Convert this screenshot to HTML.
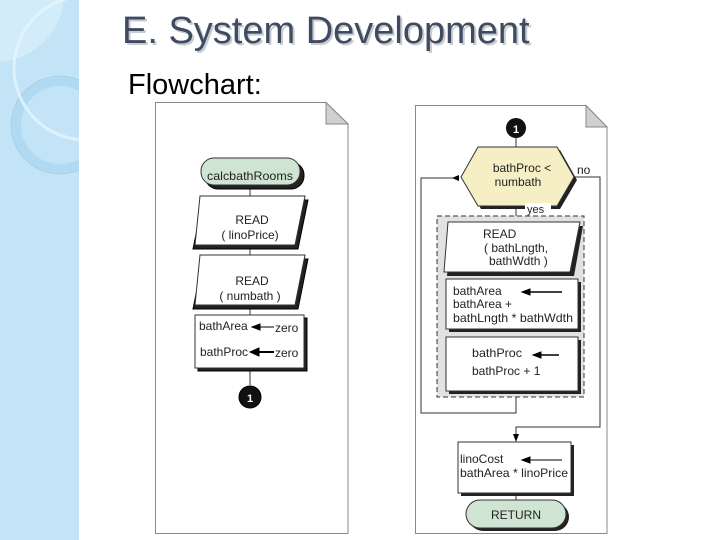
<!DOCTYPE html>
<html><head><style>
body{margin:0;width:720px;height:540px;background:#fff;overflow:hidden;position:relative;font-family:"Liberation Sans",sans-serif}
</style></head><body>
<svg width="720" height="540" style="position:absolute;left:0;top:0" font-family="Liberation Sans, sans-serif">
<defs><clipPath id="c"><rect x="0" y="0" width="79" height="540"/></clipPath></defs>
<rect x="0" y="0" width="79" height="540" fill="#c2e4f6"/>
<g clip-path="url(#c)">
<path d="M0 0 L64 0 A70 70 0 0 1 0 62 Z" fill="#d2ecf9"/>
<circle cx="60" cy="125" r="44" fill="none" stroke="#b0daf1" stroke-width="10"/>
<circle cx="60" cy="125" r="49" fill="none" stroke="#9fcbe6" stroke-width="0.6"/>
<circle cx="86" cy="68" r="72" fill="none" stroke="#e6f5fc" stroke-width="3" opacity="0.8"/>
</g>
<text x="122" y="43" font-size="38" fill="#c8cdd4" transform="translate(2,2)">E. System Development</text>
<text x="122" y="43" font-size="38" fill="#3f4c60">E. System Development</text>
<text x="128" y="94" font-size="29" fill="#000">Flowchart:</text>

<!-- left page -->
<path d="M155.5 102.5 H326 L348 124 V533.5 H155.5 Z" fill="#fff" stroke="#888"/>
<path d="M326 102.5 V124 H348 Z" fill="#d0d0d0" stroke="#888"/>
<g stroke="#000" fill="#fff" font-size="12">
<line x1="250" y1="186" x2="250" y2="385" stroke="#333"/>
<rect x="205" y="162" width="99" height="27" rx="13" fill="#222"/>
<rect x="201" y="158" width="99" height="27" rx="13" fill="#cfe4d2" stroke="#333"/>
<polygon points="203,200 308,200 298,249 193,249" fill="#222"/>
<polygon points="200,196 305,196 295,245 195,245" stroke="#333"/>
<polygon points="203,259 308,259 298,309 193,309" fill="#222"/>
<polygon points="200,255 305,255 295,305 195,305" stroke="#333"/>
<rect x="198" y="318" width="109" height="53" fill="#222"/>
<rect x="195" y="315" width="109" height="53" stroke="#333"/>
<circle cx="250" cy="397" r="11" fill="#111"/>
</g>
<g font-size="12" fill="#222" text-anchor="middle">
<text x="250" y="180" textLength="86" lengthAdjust="spacingAndGlyphs">calcbathRooms</text>
<text x="252" y="224">READ</text>
<text x="250" y="239">( linoPrice)</text>
<text x="252" y="285">READ</text>
<text x="250" y="300">( numbath )</text>
<text x="250" y="402" fill="#fff" font-weight="bold" font-size="11">1</text>
</g>
<g font-size="12" fill="#222">
<text x="199" y="330">bathArea</text><text x="275" y="332">zero</text>
<text x="200" y="356" textLength="48" lengthAdjust="spacingAndGlyphs">bathProc</text><text x="275" y="357">zero</text>
</g>
<g stroke="#000">
<line x1="258" y1="327" x2="274" y2="327"/><polygon points="252,327 260,324 260,330"/>
<line x1="258" y1="352" x2="274" y2="352" stroke-width="2"/><polygon points="250,352 259,348 259,356"/>
</g>

<!-- right page -->
<path d="M415.5 105.5 H586 L607 127 V533.5 H415.5 Z" fill="#fff" stroke="#888"/>
<path d="M586 105.5 V127 H607 Z" fill="#d0d0d0" stroke="#888"/>
<g stroke="#333" fill="none">
<line x1="516" y1="128" x2="516" y2="216"/>
<polyline points="516,397 516,413 421,413 421,178 458,178"/>
<polyline points="574,177 600,177 600,427 516,427 516,440"/>
<line x1="516" y1="493" x2="516" y2="502"/>
</g>
<polygon points="452,178 459,175 459,181" fill="#000"/>
<polygon points="516,442 513,434 519,434" fill="#000"/>
<circle cx="516" cy="128" r="10" fill="#111"/>
<text x="516" y="133" font-size="11" font-weight="bold" fill="#fff" text-anchor="middle">1</text>
<polygon points="481,150 560,150 577,180 560,209 481,209 464,180" fill="#222"/>
<polygon points="478,147 557,147 574,177 557,206 478,206 461,177" fill="#f6efc6" stroke="#333"/>
<text x="522" y="172" font-size="12" fill="#222" text-anchor="middle">bathProc &lt;</text>
<text x="518" y="186" font-size="12" fill="#222" text-anchor="middle">numbath</text>
<text x="577" y="174" font-size="12" fill="#222">no</text>
<rect x="437" y="216" width="147" height="181" fill="#e2e2e2" stroke="#333" stroke-dasharray="5,3"/>
<rect x="525" y="203" width="26" height="12" fill="#fff"/>
<text x="527" y="213" font-size="11" fill="#222">yes</text>
<polygon points="451,226 583,226 574,276 447,276" fill="#222"/>
<polygon points="448,222 580,222 570,272 444,272" fill="#fff" stroke="#333"/>
<rect x="449" y="282" width="132" height="50" fill="#222"/>
<rect x="446" y="279" width="132" height="50" fill="#fff" stroke="#333"/>
<rect x="449" y="340" width="132" height="54" fill="#222"/>
<rect x="446" y="337" width="132" height="54" fill="#fff" stroke="#333"/>
<rect x="461" y="445" width="113" height="51" fill="#222"/>
<rect x="458" y="442" width="113" height="51" fill="#fff" stroke="#333"/>
<rect x="469" y="503" width="100" height="28" rx="14" fill="#222"/>
<rect x="466" y="500" width="100" height="28" rx="14" fill="#cfe4d2" stroke="#333"/>
<g font-size="12" fill="#222">
<text x="483" y="238">READ</text>
<text x="484" y="252">( bathLngth,</text>
<text x="489" y="265">bathWdth )</text>
<text x="453" y="295">bathArea</text>
<text x="453" y="308">bathArea  +</text>
<text x="453" y="322" textLength="120" lengthAdjust="spacingAndGlyphs">bathLngth * bathWdth</text>
<text x="472" y="357" textLength="50" lengthAdjust="spacingAndGlyphs">bathProc</text>
<text x="472" y="375">bathProc  + 1</text>
<text x="460" y="463">linoCost</text>
<text x="460" y="477" textLength="108" lengthAdjust="spacingAndGlyphs">bathArea * linoPrice</text>
<text x="516" y="519" text-anchor="middle">RETURN</text>
</g>
<g stroke="#000" fill="#000">
<line x1="527" y1="292" x2="562" y2="292" stroke-width="1.5"/><polygon points="522,292 530,289 530,295"/>
<line x1="539" y1="355" x2="559" y2="355" stroke-width="1.5"/><polygon points="533,355 541,352 541,358"/>
<line x1="528" y1="460" x2="562" y2="460"/><polygon points="522,460 530,457 530,463"/>
</g>
</svg>
</body></html>
